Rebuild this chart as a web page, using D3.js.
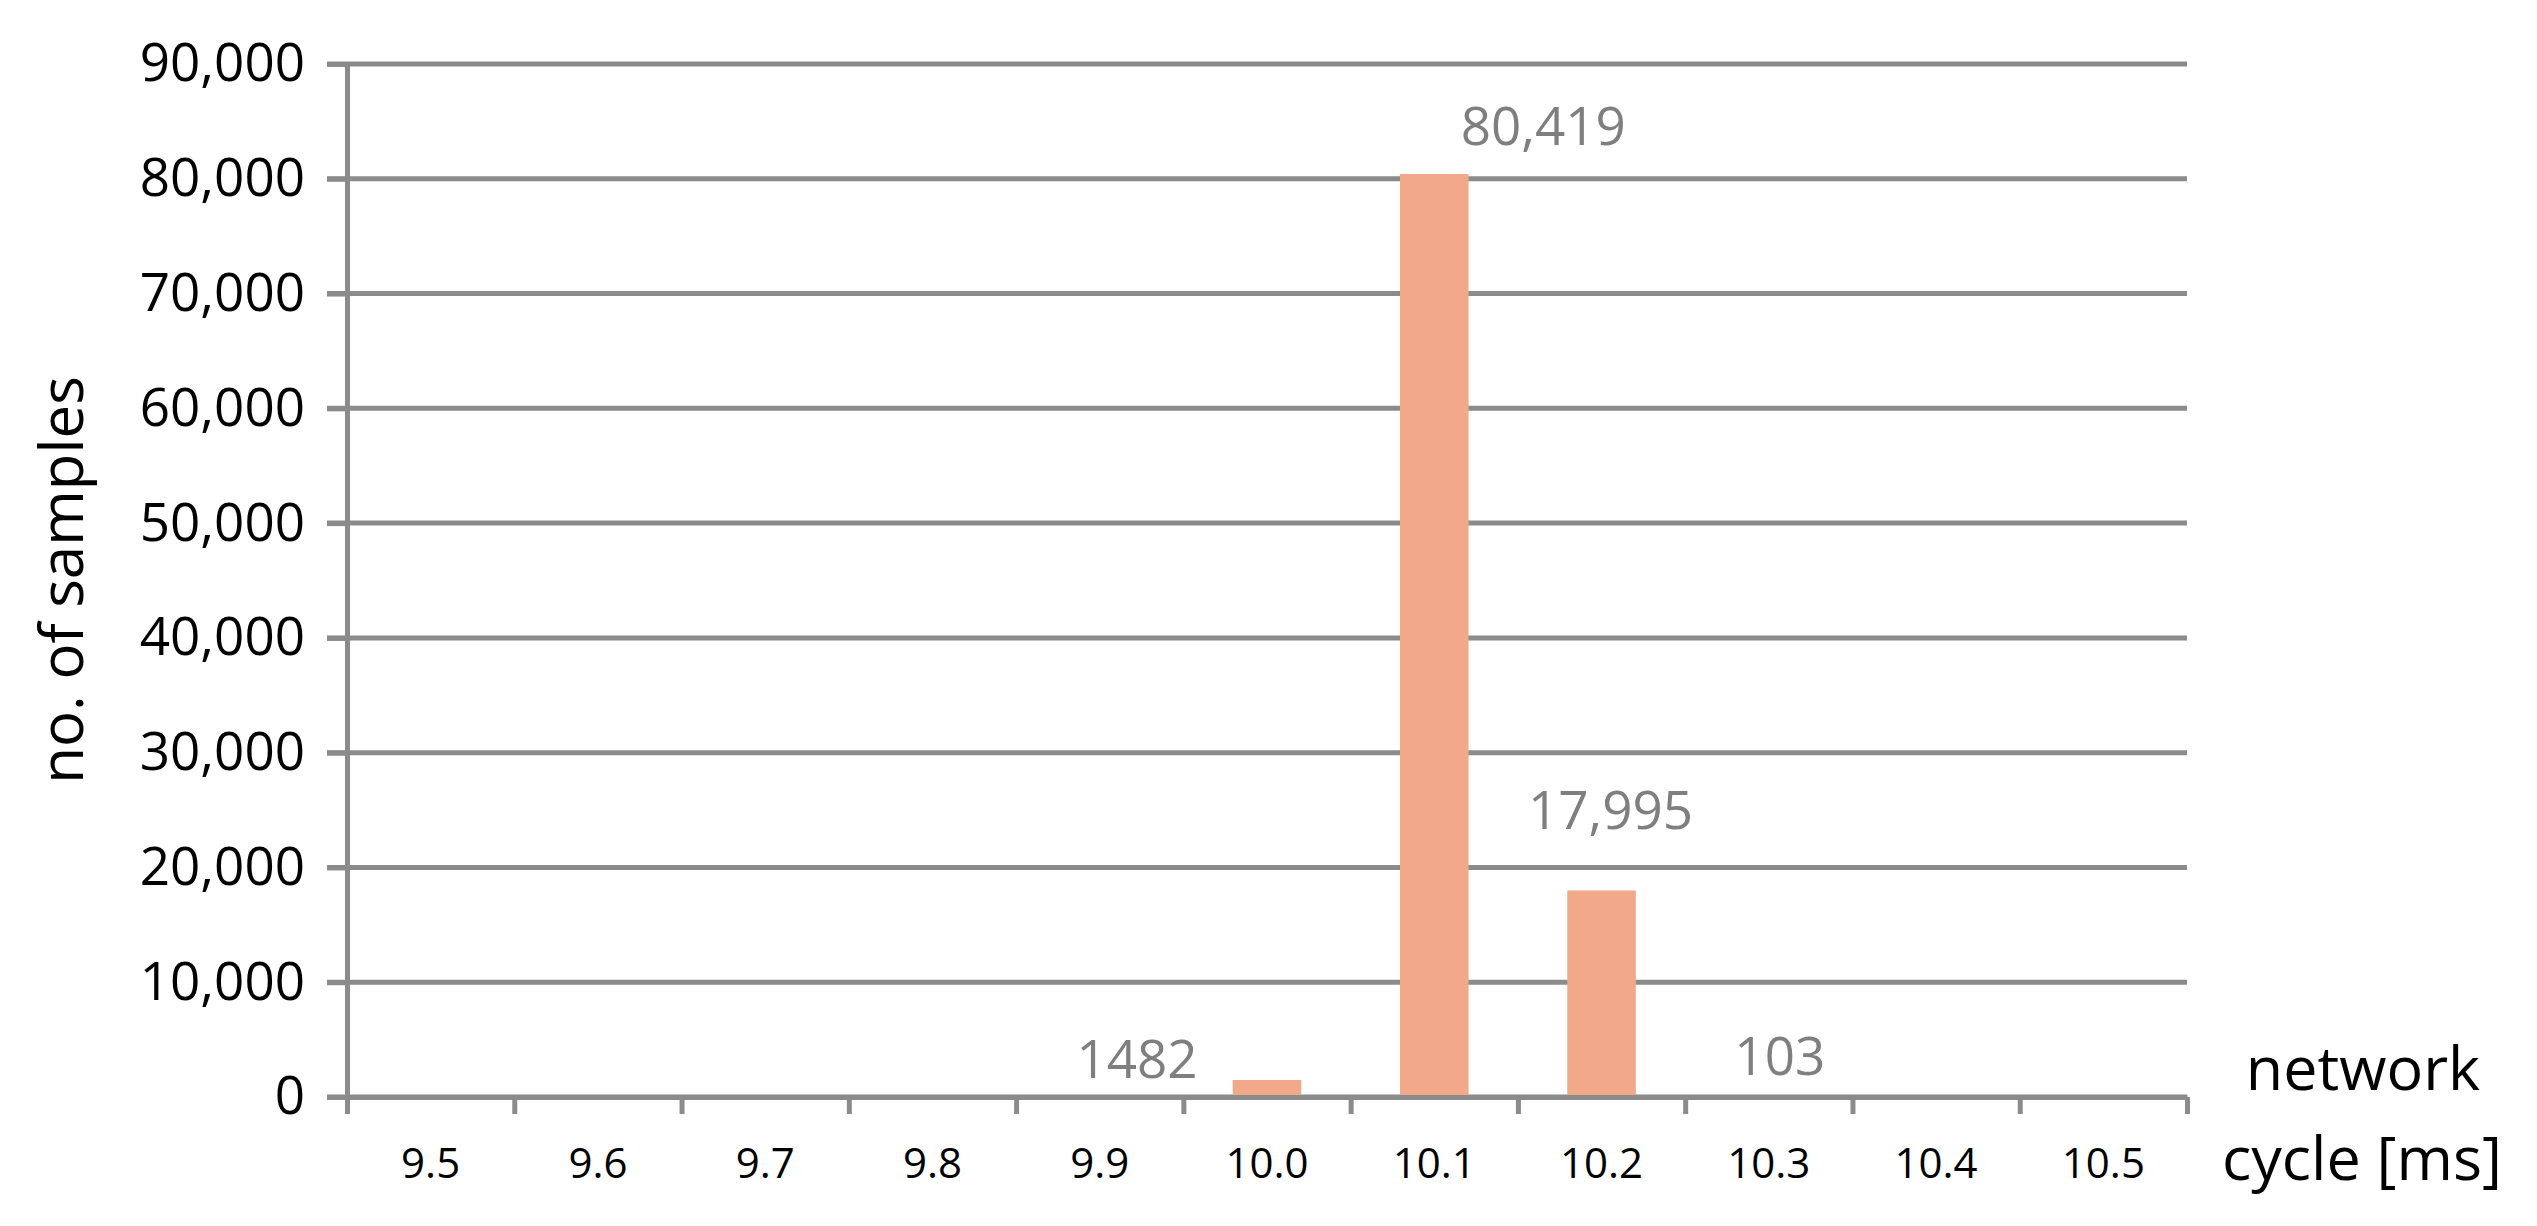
<!DOCTYPE html>
<html>
<head>
<meta charset="utf-8">
<script src="https://cdn.jsdelivr.net/npm/d3@7"></script>
<style>
  body { margin: 0; background: #fff; }
  svg { display: block; font-family: "Open Sans", sans-serif; }
</style>
</head>
<body>
<svg id="chart" width="2537" height="1226"></svg>
<script>
// network cycle histogram
const cycles = ["9.5", "9.6", "9.7", "9.8", "9.9", "10.0", "10.1", "10.2", "10.3", "10.4", "10.5"];
const samples = [0, 0, 0, 0, 0, 1482, 80419, 17995, 103, 0, 0];
const labelText = {"10.0": "1482", "10.1": "80,419", "10.2": "17,995", "10.3": "103"};
const yTicks = [0, 10000, 20000, 30000, 40000, 50000, 60000, 70000, 80000, 90000];

// where each data label sits relative to its bar top (as in the original)
const labelNudge = {"10.0": [-130, -2], "10.1": [109, -29], "10.2": [9, -61], "10.3": [11, -21]};

const grid = "#8b8b8b";
const font = "'Open Sans', sans-serif";
const plotLeft = 347, plotRight = 2187, plotTop = 64, plotBottom = 1097;

const svg = d3.select("#chart");

const x = d3.scaleBand()
    .domain(cycles)
    .range([plotLeft, plotRight])
    .paddingInner(0.59)
    .paddingOuter(0.295);

const y = d3.scaleLinear()
    .domain([0, 90000])
    .range([plotBottom, plotTop]);

const xEdges = d3.scaleLinear().domain([0, cycles.length]).range([plotLeft, plotRight]);

// gridlines
svg.append("g")
    .selectAll("line")
    .data(yTicks)
    .enter()
    .append("line")
    .attr("x1", plotLeft - 20)
    .attr("x2", plotRight)
    .attr("y1", d => y(d))
    .attr("y2", d => y(d))
    .attr("stroke", grid)
    .attr("stroke-width", 5);

// y axis
const yAxis = svg.append("g")
    .attr("transform", `translate(${plotLeft},0)`)
    .call(d3.axisLeft(y)
	  .tickValues(yTicks)
	  .tickSize(20)
	  .tickPadding(22)
	  .tickFormat(d3.format(",")))
    .attr("font-family", font);
yAxis.select(".domain").attr("stroke", grid).attr("stroke-width", 5);
yAxis.selectAll(".tick line").attr("stroke", grid).attr("stroke-width", 5);
yAxis.selectAll(".tick text")
    .attr("fill", "#000")
    .style("font-size", "53px");

// bars
svg.append("g")
    .selectAll("rect")
    .data(cycles.map((c, i) => ({c: c, v: samples[i]})))
    .enter()
    .append("rect")
    .attr("x", d => x(d.c))
    .attr("width", x.bandwidth())
    .attr("y", d => y(d.v))
    .attr("height", d => y(0) - y(d.v))
    .attr("fill", "#f1a98a");

// x axis: ticks between categories
const xTickAxis = svg.append("g")
    .attr("transform", `translate(0,${plotBottom})`)
    .call(d3.axisBottom(xEdges)
	  .ticks(cycles.length)
	  .tickSizeOuter(0)
	  .tickSizeInner(17)
	  .tickFormat(""));
xTickAxis.select(".domain").attr("stroke", grid).attr("stroke-width", 5);
xTickAxis.selectAll(".tick line").attr("stroke", grid).attr("stroke-width", 5);

// x axis: category labels
const xLabelAxis = svg.append("g")
    .attr("transform", `translate(0,${plotBottom})`)
    .call(d3.axisBottom(x).tickSize(0).tickPadding(0))
    .attr("font-family", font);
xLabelAxis.select(".domain").remove();
xLabelAxis.selectAll(".tick text")
    .attr("y", 81)
    .attr("dy", null)
    .attr("fill", "#000")
    .style("font-size", "42px");

// data labels
svg.append("g")
    .selectAll("text")
    .data(cycles.filter(c => labelText[c]))
    .enter()
    .append("text")
    .attr("x", c => x(c) + x.bandwidth() / 2 + labelNudge[c][0])
    .attr("y", c => y(samples[cycles.indexOf(c)]) + labelNudge[c][1])
    .attr("text-anchor", "middle")
    .attr("fill", "#7f7f7f")
    .style("font-size", "53px")
    .text(c => labelText[c]);

// axis titles
svg.append("text")
    .attr("transform", "translate(83,580) rotate(-90)")
    .attr("text-anchor", "middle")
    .style("font-size", "60px")
    .attr("fill", "#000")
    .text("no. of samples");

const xTitle = svg.append("text")
    .attr("text-anchor", "middle")
    .style("font-size", "61px")
    .attr("fill", "#000");
xTitle.append("tspan").attr("x", 2363).attr("y", 1090).text("network");
xTitle.append("tspan").attr("x", 2362).attr("y", 1180).text("cycle [ms]");
</script>
</body>
</html>
